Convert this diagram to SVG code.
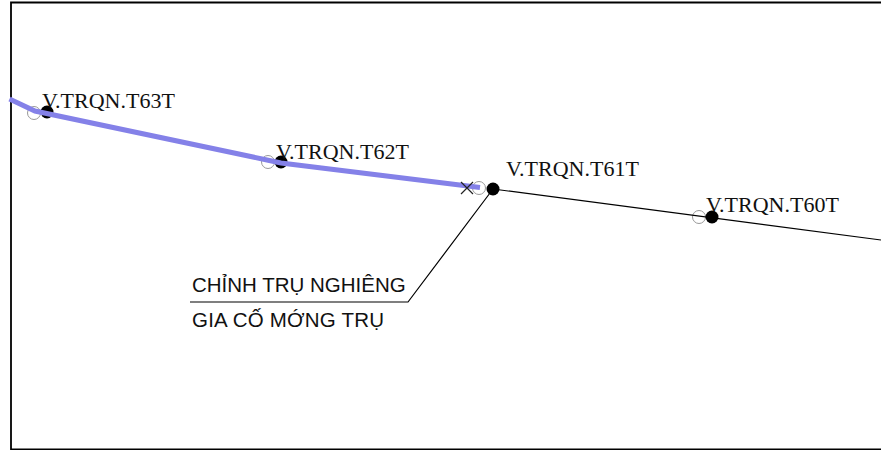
<svg xmlns="http://www.w3.org/2000/svg" width="881" height="450" viewBox="0 0 881 450">
<style>
.lbl{font-family:"Liberation Serif","Times New Roman",serif;font-size:22px;fill:#111}
.note{font-family:"Liberation Sans",Arial,sans-serif;font-size:20.500px;fill:#111}
.dot{fill:#000}
.ring{fill:none;stroke:#999;stroke-width:1}
.thin{fill:none;stroke:#000;stroke-width:1.200}
</style>
<rect width="881" height="450" fill="#fff"/>
<path d="M881 2.500H11V449.500H881" fill="none" stroke="#000" stroke-width="1.800"/>
<g id="node-t63"><circle class="ring" cx="34" cy="113" r="6.500"/><circle class="dot" cx="47" cy="112" r="6.500"/><text class="lbl" x="42" y="108">V.TRQN.T63T</text></g>
<g id="node-t62"><circle class="ring" cx="268" cy="162" r="6.500"/><circle class="dot" cx="281" cy="162" r="6.500"/><text class="lbl" x="276" y="159">V.TRQN.T62T</text></g>
<g id="node-t61"><circle class="ring" cx="479" cy="188" r="6.500"/><circle class="dot" cx="493" cy="189" r="6.500"/><text class="lbl" x="506" y="176">V.TRQN.T61T</text></g>
<g id="node-t60"><circle class="ring" cx="699" cy="217" r="6.500"/><circle class="dot" cx="712" cy="217" r="6.500"/><text class="lbl" x="706" y="212">V.TRQN.T60T</text></g>
<g id="connectors">
<path class="thin" d="M493 189L881 240"/>
<path class="thin" d="M493 189L408 302H190"/>
<path d="M9.500 99L35 111L267 160L281 163L480 187.500" fill="none" stroke="#8481e8" stroke-width="5"/>
<path d="M461 182L473 194M473 182L461 194" stroke="#222" stroke-width="1.200" fill="none"/>
</g>
<g id="note"><text class="note" x="192" y="292">CHỈNH TRỤ NGHIÊNG</text><text class="note" x="192" y="327" textLength="192">GIA CỐ MỚNG TRỤ</text></g>
</svg>
